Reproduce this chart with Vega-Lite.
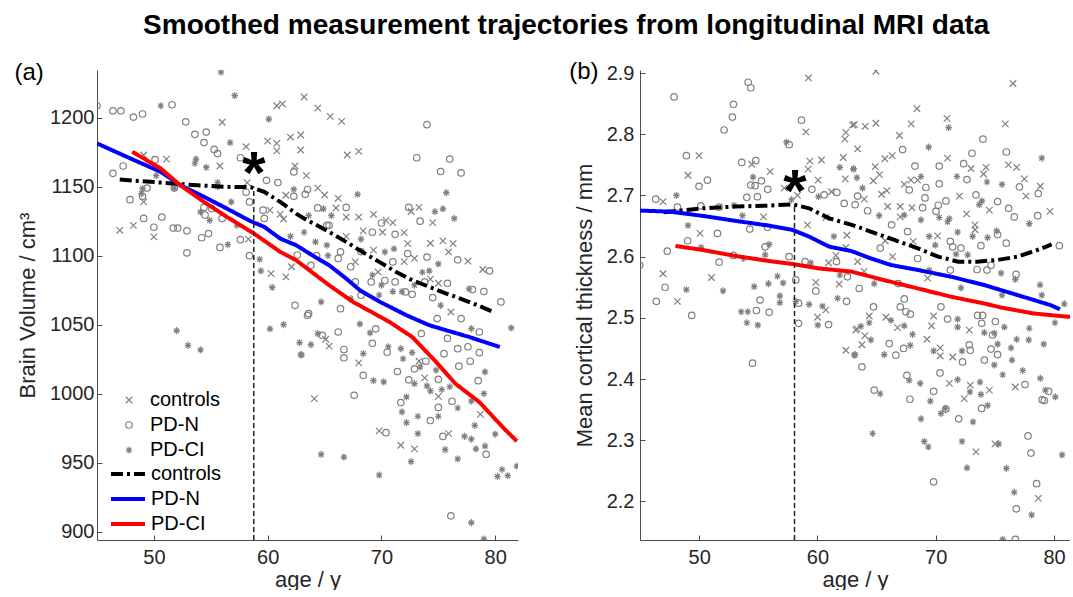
{
"$schema": "https://vega.github.io/schema/vega-lite/v6.json",
"background": "white",
"padding": {"left": 14, "top": 12, "right": 0, "bottom": 0},
"config": {
  "font": "Liberation Sans",
  "view": {"stroke": null},
  "axis": {"grid": false, "domainColor": "#4d4d4d", "domainWidth": 1, "tickColor": "#4d4d4d", "tickSize": -5, "labelPadding": 8, "labelFontSize": 20, "titleFontSize": 22, "titleFontWeight": "normal", "labelColor": "#262626", "titleColor": "#262626"},
  "legend": {"labelFontSize": 20, "labelColor": "black", "padding": 0}
},
"title": {"text": "Smoothed measurement trajectories from longitudinal MRI data", "fontSize": 28, "fontWeight": "bold", "anchor": "middle", "frame": "bounds", "offset": 20, "dx": 24, "color": "black"},
"bounds": "flush",
"spacing": 122,
"resolve": {"scale": {"shape": "independent", "color": "independent", "strokeDash": "independent"}, "legend": {"shape": "independent", "color": "independent", "strokeDash": "independent"}},
"datasets": {
"ptsA": [
{"age":45.0,"val":1208.7,"grp":"PD-N"},{"age":46.4,"val":1205,"grp":"PD-N"},{"age":47.1,"val":1205,"grp":"PD-N"},{"age":48.2,"val":1200.5,"grp":"PD-N"},{"age":49.0,"val":1202.7,"grp":"PD-N"},{"age":51.6,"val":1209.4,"grp":"PD-N"},{"age":52.8,"val":1197,"grp":"PD-N"},{"age":53.6,"val":1188,"grp":"PD-N"},{"age":54.6,"val":1189.6,"grp":"PD-N"},{"age":54.4,"val":1182,"grp":"PD-N"},{"age":55.3,"val":1177,"grp":"PD-N"},{"age":55.6,"val":1174,"grp":"PD-N"},{"age":57.6,"val":1171,"grp":"PD-N"},{"age":46.4,"val":1159.7,"grp":"PD-N"},{"age":47.3,"val":1165,"grp":"PD-N"},{"age":50.1,"val":1169.6,"grp":"PD-N"},{"age":49.4,"val":1149,"grp":"PD-N"},{"age":47.9,"val":1140.6,"grp":"PD-N"},{"age":49.0,"val":1143,"grp":"PD-N"},{"age":49.1,"val":1127,"grp":"PD-N"},{"age":50.7,"val":1128,"grp":"PD-N"},{"age":50.0,"val":1120.6,"grp":"PD-N"},{"age":51.7,"val":1120,"grp":"PD-N"},{"age":52.1,"val":1120,"grp":"PD-N"},{"age":52.9,"val":1118,"grp":"PD-N"},{"age":54.2,"val":1113,"grp":"PD-N"},{"age":54.8,"val":1116,"grp":"PD-N"},{"age":52.9,"val":1102,"grp":"PD-N"},{"age":55.8,"val":1106,"grp":"PD-N"},{"age":57.6,"val":1111.6,"grp":"PD-N"},{"age":58.4,"val":1100,"grp":"PD-N"},{"age":58.4,"val":1139,"grp":"PD-N"},{"age":58.1,"val":1146,"grp":"PD-N"},{"age":54.4,"val":1135,"grp":"PD-N"},{"age":55.1,"val":1134,"grp":"PD-N"},{"age":56.0,"val":1127,"grp":"PD-N"},{"age":54.5,"val":1129.5,"grp":"PD-N"},{"age":51.8,"val":1149,"grp":"PD-N"},{"age":59.9,"val":1154.6,"grp":"PD-N"},{"age":60.9,"val":1153,"grp":"PD-N"},{"age":59.6,"val":1133,"grp":"PD-N"},{"age":59.7,"val":1127,"grp":"PD-N"},{"age":62.3,"val":1160.7,"grp":"PD-N"},{"age":62.3,"val":1143,"grp":"PD-N"},{"age":62.6,"val":1100.5,"grp":"PD-N"},
{"age":74.0,"val":1195,"grp":"PD-N"},{"age":73.1,"val":1171,"grp":"PD-N"},{"age":76.0,"val":1170,"grp":"PD-N"},{"age":75.2,"val":1161,"grp":"PD-N"},{"age":77.0,"val":1160,"grp":"PD-N"},{"age":72.4,"val":1135,"grp":"PD-N"},{"age":73.4,"val":1125,"grp":"PD-N"},{"age":63.5,"val":1148,"grp":"PD-N"},{"age":63.3,"val":1144.5,"grp":"PD-N"},{"age":64.4,"val":1134.6,"grp":"PD-N"},{"age":66.9,"val":1135,"grp":"PD-N"},{"age":70.0,"val":1123.7,"grp":"PD-N"},{"age":69.2,"val":1117,"grp":"PD-N"},{"age":71.2,"val":1115.5,"grp":"PD-N"},{"age":72.3,"val":1101.5,"grp":"PD-N"},{"age":74.0,"val":1099,"grp":"PD-N"},{"age":71.0,"val":1095.5,"grp":"PD-N"},{"age":68.2,"val":1103,"grp":"PD-N"},{"age":67.3,"val":1092,"grp":"PD-N"},{"age":76.7,"val":1097,"grp":"PD-N"},{"age":79.5,"val":1089,"grp":"PD-N"},{"age":75.8,"val":1080,"grp":"PD-N"},{"age":78.0,"val":1075.4,"grp":"PD-N"},{"age":79.0,"val":1074,"grp":"PD-N"},{"age":80.5,"val":1066.5,"grp":"PD-N"},{"age":65.4,"val":1122,"grp":"PD-N"},{"age":70.3,"val":1082,"grp":"PD-N"},{"age":71.2,"val":1081,"grp":"PD-N"},{"age":72.7,"val":1072,"grp":"PD-N"},{"age":74.5,"val":1069.6,"grp":"PD-N"},{"age":64.3,"val":1100,"grp":"PD-N"},{"age":63.8,"val":1093,"grp":"PD-N"},{"age":66.2,"val":1098,"grp":"PD-N"},
{"age":67.6,"val":998.8,"grp":"PD-N"},{"age":68.4,"val":1013.3,"grp":"PD-N"},{"age":71.4,"val":1016,"grp":"PD-N"},{"age":72.4,"val":1010,"grp":"PD-N"},{"age":75.0,"val":1010.4,"grp":"PD-N"},{"age":76.2,"val":994.5,"grp":"PD-N"},{"age":71.7,"val":993.5,"grp":"PD-N"},{"age":75.0,"val":990,"grp":"PD-N"},{"age":74.3,"val":980.5,"grp":"PD-N"},{"age":75.4,"val":969,"grp":"PD-N"},{"age":70.4,"val":971.7,"grp":"PD-N"},{"age":79.2,"val":956,"grp":"PD-N"},{"age":76.1,"val":911.4,"grp":"PD-N"},{"age":66.7,"val":1032,"grp":"PD-N"},{"age":66.7,"val":1026,"grp":"PD-N"},{"age":69.2,"val":1036.5,"grp":"PD-N"},{"age":64.8,"val":1042.3,"grp":"PD-N"},{"age":66.2,"val":1044.7,"grp":"PD-N"},{"age":76.8,"val":1019.9,"grp":"PD-N"},{"age":77.8,"val":1023.5,"grp":"PD-N"},{"age":78.6,"val":1029.7,"grp":"PD-N"},{"age":78.5,"val":1009.4,"grp":"PD-N"},{"age":77.6,"val":1034,"grp":"PD-N"},{"age":76.7,"val":1032.6,"grp":"PD-N"},{"age":72.9,"val":1018,"grp":"PD-N"},{"age":70.5,"val":1030,"grp":"PD-N"},{"age":73.9,"val":1023.5,"grp":"PD-N"},{"age":75.5,"val":1029,"grp":"PD-N"},{"age":63.6,"val":1058,"grp":"PD-N"},{"age":69.5,"val":1047,"grp":"PD-N"},{"age":74.9,"val":1054.4,"grp":"PD-N"},{"age":78.6,"val":1044.7,"grp":"PD-N"},{"age":75.8,"val":1040,"grp":"PD-N"},{"age":73.5,"val":1043.5,"grp":"PD-N"},
{"age":62.4,"val":1064,"grp":"PD-N"},{"age":63.5,"val":1056.8,"grp":"PD-N"},{"age":66.4,"val":1061.6,"grp":"PD-N"},{"age":68.2,"val":1071.3,"grp":"PD-N"},{"age":69.1,"val":1081,"grp":"PD-N"},{"age":72.1,"val":1073.7,"grp":"PD-N"},{"age":73.8,"val":1081,"grp":"PD-N"},{"age":77.0,"val":1054.4,"grp":"PD-N"},{"age":66.4,"val":1102.8,"grp":"PD-N"},{"age":65.2,"val":1122,"grp":"PD-N"},{"age":67.7,"val":1081,"grp":"PD-N"},
{"age":47.0,"val":1118.4,"grp":"controls"},{"age":48.2,"val":1122,"grp":"controls"},{"age":50.0,"val":1113.6,"grp":"controls"},{"age":49.1,"val":1139,"grp":"controls"},{"age":51.1,"val":1170,"grp":"controls"},{"age":55.8,"val":1165,"grp":"controls"},{"age":56.0,"val":1196.7,"grp":"controls"},{"age":58.1,"val":1179,"grp":"controls"},{"age":60.0,"val":1183,"grp":"controls"},{"age":60.8,"val":1181.4,"grp":"controls"},{"age":60.8,"val":1208.7,"grp":"controls"},{"age":61.3,"val":1210,"grp":"controls"},{"age":62.0,"val":1186,"grp":"controls"},{"age":62.9,"val":1187.5,"grp":"controls"},{"age":60.8,"val":1176,"grp":"controls"},{"age":62.4,"val":1165,"grp":"controls"},{"age":58.2,"val":1153,"grp":"controls"},{"age":60.2,"val":1133,"grp":"controls"},{"age":60.3,"val":1087,"grp":"controls"},{"age":61.6,"val":1084.6,"grp":"controls"},{"age":62.1,"val":1092,"grp":"controls"},{"age":58.3,"val":1112,"grp":"controls"},{"age":61.1,"val":1130,"grp":"controls"},{"age":61.4,"val":1126.6,"grp":"controls"},{"age":61.6,"val":1143.8,"grp":"controls"},{"age":49.1,"val":1173,"grp":"controls"},
{"age":63.2,"val":1215,"grp":"controls"},{"age":64.4,"val":1207,"grp":"controls"},{"age":65.5,"val":1201,"grp":"controls"},{"age":66.5,"val":1197.4,"grp":"controls"},{"age":62.9,"val":1176.6,"grp":"controls"},{"age":67.0,"val":1173,"grp":"controls"},{"age":68.0,"val":1175.6,"grp":"controls"},{"age":63.4,"val":1158,"grp":"controls"},{"age":65.0,"val":1144,"grp":"controls"},{"age":66.2,"val":1141.6,"grp":"controls"},{"age":64.4,"val":1149,"grp":"controls"},{"age":68.0,"val":1128,"grp":"controls"},{"age":69.3,"val":1130,"grp":"controls"},{"age":71.0,"val":1124,"grp":"controls"},{"age":70.4,"val":1125.6,"grp":"controls"},{"age":70.1,"val":1117,"grp":"controls"},{"age":72.0,"val":1116.7,"grp":"controls"},{"age":72.3,"val":1108.7,"grp":"controls"},{"age":69.3,"val":1104,"grp":"controls"},{"age":66.9,"val":1114,"grp":"controls"},{"age":68.4,"val":1118,"grp":"controls"},{"age":73.3,"val":1135,"grp":"controls"},{"age":74.5,"val":1124,"grp":"controls"},{"age":74.3,"val":1109,"grp":"controls"},{"age":75.4,"val":1110.7,"grp":"controls"},{"age":76.3,"val":1108.7,"grp":"controls"},{"age":75.9,"val":1102.7,"grp":"controls"},{"age":77.6,"val":1096,"grp":"controls"},{"age":78.9,"val":1090,"grp":"controls"},{"age":72.0,"val":1095.7,"grp":"controls"},{"age":72.9,"val":1098,"grp":"controls"},{"age":72.6,"val":1132,"grp":"controls"},{"age":74.3,"val":1083,"grp":"controls"},{"age":75.0,"val":1080,"grp":"controls"},{"age":66.9,"val":1128,"grp":"controls"},{"age":66.0,"val":1134.6,"grp":"controls"},{"age":67.7,"val":1095.5,"grp":"controls"},
{"age":64.1,"val":996.4,"grp":"controls"},{"age":68.0,"val":1022.3,"grp":"controls"},{"age":69.8,"val":973,"grp":"controls"},{"age":71.7,"val":962.6,"grp":"controls"},{"age":72.9,"val":960,"grp":"controls"},{"age":75.9,"val":971,"grp":"controls"},{"age":75.0,"val":998,"grp":"controls"},{"age":78.7,"val":985,"grp":"controls"},{"age":73.8,"val":1011.4,"grp":"controls"},{"age":73.3,"val":1023.5,"grp":"controls"},{"age":65.4,"val":1034.4,"grp":"controls"},{"age":65.1,"val":1039.4,"grp":"controls"},{"age":69.7,"val":1088.2,"grp":"controls"},{"age":76.1,"val":1059.2,"grp":"controls"},
{"age":55.9,"val":1233,"grp":"PD-CI"},{"age":57.1,"val":1216,"grp":"PD-CI"},{"age":50.6,"val":1208.7,"grp":"PD-CI"},{"age":60.1,"val":1199,"grp":"PD-CI"},{"age":56.7,"val":1182,"grp":"PD-CI"},{"age":53.7,"val":1170,"grp":"PD-CI"},{"age":53.6,"val":1167,"grp":"PD-CI"},{"age":54.6,"val":1164,"grp":"PD-CI"},{"age":55.6,"val":1153,"grp":"PD-CI"},{"age":55.6,"val":1150,"grp":"PD-CI"},{"age":51.8,"val":1149,"grp":"PD-CI"},{"age":49.0,"val":1148.6,"grp":"PD-CI"},{"age":48.9,"val":1145,"grp":"PD-CI"},{"age":50.2,"val":1158,"grp":"PD-CI"},{"age":54.1,"val":1131.7,"grp":"PD-CI"},{"age":54.9,"val":1125.6,"grp":"PD-CI"},{"age":56.8,"val":1139,"grp":"PD-CI"},{"age":57.3,"val":1122,"grp":"PD-CI"},{"age":56.5,"val":1108,"grp":"PD-CI"},{"age":59.3,"val":1097.4,"grp":"PD-CI"},{"age":59.4,"val":1089,"grp":"PD-CI"},{"age":60.4,"val":1077,"grp":"PD-CI"},{"age":62.3,"val":1148,"grp":"PD-CI"},{"age":62.0,"val":1114,"grp":"PD-CI"},
{"age":67.9,"val":1144.5,"grp":"PD-CI"},{"age":75.7,"val":1145.7,"grp":"PD-CI"},{"age":74.7,"val":1132,"grp":"PD-CI"},{"age":75.4,"val":1134,"grp":"PD-CI"},{"age":76.4,"val":1127,"grp":"PD-CI"},{"age":75.0,"val":1094,"grp":"PD-CI"},{"age":74.2,"val":1089,"grp":"PD-CI"},{"age":73.6,"val":1088,"grp":"PD-CI"},{"age":71.1,"val":1105,"grp":"PD-CI"},{"age":70.3,"val":1102.7,"grp":"PD-CI"},{"age":65.6,"val":1129,"grp":"PD-CI"},{"age":64.9,"val":1134,"grp":"PD-CI"},{"age":63.6,"val":1129,"grp":"PD-CI"},{"age":63.2,"val":1117,"grp":"PD-CI"},{"age":64.2,"val":1110,"grp":"PD-CI"},{"age":65.3,"val":1100,"grp":"PD-CI"},{"age":68.2,"val":1112,"grp":"PD-CI"},{"age":69.2,"val":1086,"grp":"PD-CI"},{"age":71.0,"val":1074,"grp":"PD-CI"},{"age":71.8,"val":1074,"grp":"PD-CI"},{"age":69.8,"val":1071.5,"grp":"PD-CI"},{"age":77.7,"val":1076,"grp":"PD-CI"},
{"age":52.0,"val":1045.7,"grp":"PD-CI"},{"age":53.0,"val":1035,"grp":"PD-CI"},{"age":54.1,"val":1031.7,"grp":"PD-CI"},{"age":60.2,"val":1047,"grp":"PD-CI"},{"age":61.4,"val":1050,"grp":"PD-CI"},{"age":62.8,"val":1037,"grp":"PD-CI"},{"age":62.9,"val":1028.3,"grp":"PD-CI"},
{"age":63.8,"val":1035.5,"grp":"PD-CI"},{"age":63.0,"val":1028,"grp":"PD-CI"},{"age":64.4,"val":1043.5,"grp":"PD-CI"},{"age":68.1,"val":1050.5,"grp":"PD-CI"},{"age":68.4,"val":1029,"grp":"PD-CI"},{"age":69.3,"val":1009.4,"grp":"PD-CI"},{"age":70.2,"val":1008.5,"grp":"PD-CI"},{"age":69.0,"val":1044,"grp":"PD-CI"},{"age":70.6,"val":1034,"grp":"PD-CI"},{"age":71.7,"val":1032.6,"grp":"PD-CI"},{"age":72.7,"val":1029.7,"grp":"PD-CI"},{"age":71.9,"val":1025.3,"grp":"PD-CI"},{"age":73.4,"val":1019.4,"grp":"PD-CI"},{"age":72.9,"val":1007.3,"grp":"PD-CI"},{"age":74.0,"val":1005.6,"grp":"PD-CI"},{"age":74.3,"val":1002,"grp":"PD-CI"},{"age":75.3,"val":1003,"grp":"PD-CI"},{"age":74.8,"val":1017,"grp":"PD-CI"},{"age":76.0,"val":1005,"grp":"PD-CI"},{"age":72.2,"val":997.6,"grp":"PD-CI"},{"age":71.8,"val":986.8,"grp":"PD-CI"},{"age":73.2,"val":983.6,"grp":"PD-CI"},{"age":72.2,"val":979,"grp":"PD-CI"},{"age":75.0,"val":983.6,"grp":"PD-CI"},{"age":73.2,"val":971,"grp":"PD-CI"},{"age":75.6,"val":959.4,"grp":"PD-CI"},{"age":76.7,"val":952.7,"grp":"PD-CI"},{"age":72.6,"val":950.7,"grp":"PD-CI"},{"age":76.7,"val":989.6,"grp":"PD-CI"},{"age":77.9,"val":994.5,"grp":"PD-CI"},{"age":78.2,"val":977,"grp":"PD-CI"},{"age":77.3,"val":969,"grp":"PD-CI"},{"age":77.9,"val":967,"grp":"PD-CI"},{"age":78.3,"val":960,"grp":"PD-CI"},{"age":79.1,"val":962,"grp":"PD-CI"},{"age":79.0,"val":1000,"grp":"PD-CI"},{"age":79.1,"val":1015.8,"grp":"PD-CI"},{"age":80.0,"val":970.6,"grp":"PD-CI"},{"age":81.9,"val":947.5,"grp":"PD-CI"},{"age":80.6,"val":945,"grp":"PD-CI"},{"age":81.1,"val":940.5,"grp":"PD-CI"},{"age":80.2,"val":940,"grp":"PD-CI"},{"age":69.8,"val":941,"grp":"PD-CI"},{"age":64.7,"val":956,"grp":"PD-CI"},{"age":66.7,"val":954,"grp":"PD-CI"},{"age":77.9,"val":906.5,"grp":"PD-CI"},{"age":79.0,"val":894.5,"grp":"PD-CI"},{"age":81.4,"val":1047.6,"grp":"PD-CI"},
{"age":64.7,"val":1066.5,"grp":"PD-CI"},{"age":67.3,"val":1068.9,"grp":"PD-CI"},{"age":70.0,"val":1078.6,"grp":"PD-CI"},{"age":72.9,"val":1078.6,"grp":"PD-CI"},{"age":75.2,"val":1064,"grp":"PD-CI"},{"age":77.9,"val":1047.1,"grp":"PD-CI"},{"age":65.2,"val":1107.6,"grp":"PD-CI"}
],
"lnA": [
{"age":47.0,"val":1155.2,"s":"controls"},{"age":50.6,"val":1153,"s":"controls"},{"age":53.5,"val":1151.2,"s":"controls"},{"age":56.4,"val":1149.9,"s":"controls"},{"age":58.5,"val":1149.7,"s":"controls"},{"age":59.7,"val":1146.3,"s":"controls"},{"age":61.1,"val":1139,"s":"controls"},{"age":62.5,"val":1130.5,"s":"controls"},{"age":63.2,"val":1127,"s":"controls"},{"age":65.4,"val":1117.3,"s":"controls"},{"age":66.9,"val":1110,"s":"controls"},{"age":68.3,"val":1102.8,"s":"controls"},{"age":69.8,"val":1095.5,"s":"controls"},{"age":71.3,"val":1088.2,"s":"controls"},{"age":72.7,"val":1082.2,"s":"controls"},{"age":74.2,"val":1077.4,"s":"controls"},{"age":75.7,"val":1072.5,"s":"controls"},{"age":77.1,"val":1068.4,"s":"controls"},{"age":78.3,"val":1064.5,"s":"controls"},{"age":79.7,"val":1059.7,"s":"controls"},
{"age":45.0,"val":1181.4,"s":"PD-N"},{"age":47.6,"val":1171.7,"s":"PD-N"},{"age":50.6,"val":1160.8,"s":"PD-N"},{"age":52.3,"val":1151.2,"s":"PD-N"},{"age":54.4,"val":1142.7,"s":"PD-N"},{"age":56.4,"val":1134.2,"s":"PD-N"},{"age":58.5,"val":1125,"s":"PD-N"},{"age":59.7,"val":1120.9,"s":"PD-N"},{"age":61.1,"val":1112.4,"s":"PD-N"},{"age":62.5,"val":1107.6,"s":"PD-N"},{"age":63.9,"val":1100.4,"s":"PD-N"},{"age":65.4,"val":1093.1,"s":"PD-N"},{"age":66.9,"val":1083.4,"s":"PD-N"},{"age":68.1,"val":1075,"s":"PD-N"},{"age":69.8,"val":1066.8,"s":"PD-N"},{"age":72.2,"val":1056.8,"s":"PD-N"},{"age":74.2,"val":1049.6,"s":"PD-N"},{"age":75.7,"val":1045.9,"s":"PD-N"},{"age":77.7,"val":1041.1,"s":"PD-N"},{"age":80.4,"val":1033.8,"s":"PD-N"},
{"age":48.1,"val":1175.3,"s":"PD-CI"},{"age":50.6,"val":1163.2,"s":"PD-CI"},{"age":52.3,"val":1151.2,"s":"PD-CI"},{"age":54.4,"val":1139,"s":"PD-CI"},{"age":56.4,"val":1128.2,"s":"PD-CI"},{"age":58.8,"val":1116,"s":"PD-CI"},{"age":61.1,"val":1102.8,"s":"PD-CI"},{"age":62.5,"val":1096.7,"s":"PD-CI"},{"age":65.4,"val":1078.6,"s":"PD-CI"},{"age":67.5,"val":1066.5,"s":"PD-CI"},{"age":70.7,"val":1052,"s":"PD-CI"},{"age":72.7,"val":1041.1,"s":"PD-CI"},{"age":74.8,"val":1023,"s":"PD-CI"},{"age":76.5,"val":1007.2,"s":"PD-CI"},{"age":78.6,"val":993.9,"s":"PD-CI"},{"age":80.8,"val":974.5,"s":"PD-CI"},{"age":81.9,"val":965.5,"s":"PD-CI"}
],
"ptsB": [
{"age":47.88,"val":2.861,"grp":"PD-N"},{"age":54.14,"val":2.885,"grp":"PD-N"},{"age":54.37,"val":2.876,"grp":"PD-N"},{"age":52.9,"val":2.849,"grp":"PD-N"},{"age":52.81,"val":2.828,"grp":"PD-N"},{"age":52.11,"val":2.807,"grp":"PD-N"},{"age":48.92,"val":2.765,"grp":"PD-N"},{"age":53.6,"val":2.754,"grp":"PD-N"},{"age":54.79,"val":2.757,"grp":"PD-N"},{"age":50.7,"val":2.725,"grp":"PD-N"},{"age":49.99,"val":2.715,"grp":"PD-N"},{"age":54.37,"val":2.717,"grp":"PD-N"},{"age":55.27,"val":2.724,"grp":"PD-N"},{"age":54.73,"val":2.716,"grp":"PD-N"},{"age":55.8,"val":2.71,"grp":"PD-N"},{"age":54.03,"val":2.697,"grp":"PD-N"},{"age":54.93,"val":2.698,"grp":"PD-N"},{"age":46.33,"val":2.694,"grp":"PD-N"},{"age":48.16,"val":2.681,"grp":"PD-N"},{"age":50.14,"val":2.683,"grp":"PD-N"},{"age":51.69,"val":2.681,"grp":"PD-N"},{"age":58.65,"val":2.823,"grp":"PD-N"},{"age":57.61,"val":2.783,"grp":"PD-N"},{"age":59.53,"val":2.71,"grp":"PD-N"},{"age":60.57,"val":2.701,"grp":"PD-N"},{"age":61.64,"val":2.705,"grp":"PD-N"},{"age":62.26,"val":2.687,"grp":"PD-N"},{"age":54.28,"val":2.645,"grp":"PD-N"},{"age":51.55,"val":2.638,"grp":"PD-N"},{"age":55.77,"val":2.648,"grp":"PD-N"},{"age":49.03,"val":2.626,"grp":"PD-N"},{"age":47.31,"val":2.609,"grp":"PD-N"},{"age":55.58,"val":2.616,"grp":"PD-N"},{"age":44.97,"val":2.586,"grp":"PD-N"},{"age":51.69,"val":2.591,"grp":"PD-N"},{"age":52.9,"val":2.602,"grp":"PD-N"},{"age":57.61,"val":2.6,"grp":"PD-N"},{"age":58.96,"val":2.592,"grp":"PD-N"},{"age":61.61,"val":2.592,"grp":"PD-N"},{"age":47.12,"val":2.55,"grp":"PD-N"},{"age":46.38,"val":2.527,"grp":"PD-N"},{"age":55.15,"val":2.529,"grp":"PD-N"},{"age":58.17,"val":2.562,"grp":"PD-N"},{"age":59.86,"val":2.544,"grp":"PD-N"},{"age":62.46,"val":2.527,"grp":"PD-N"},{"age":62.54,"val":2.567,"grp":"PD-N"},
{"age":49.37,"val":2.504,"grp":"PD-N"},{"age":54.84,"val":2.512,"grp":"PD-N"},{"age":55.92,"val":2.509,"grp":"PD-N"},{"age":54.51,"val":2.426,"grp":"PD-N"},{"age":58.4,"val":2.491,"grp":"PD-N"},{"age":60.94,"val":2.489,"grp":"PD-N"},{"age":58.4,"val":2.524,"grp":"PD-N"},
{"age":73.99,"val":2.792,"grp":"PD-N"},{"age":67.2,"val":2.775,"grp":"PD-N"},{"age":73.06,"val":2.769,"grp":"PD-N"},{"age":75.97,"val":2.771,"grp":"PD-N"},{"age":68.24,"val":2.748,"grp":"PD-N"},{"age":70.3,"val":2.748,"grp":"PD-N"},{"age":72.36,"val":2.752,"grp":"PD-N"},{"age":72.64,"val":2.726,"grp":"PD-N"},{"age":77.07,"val":2.714,"grp":"PD-N"},{"age":78.67,"val":2.703,"grp":"PD-N"},{"age":73.4,"val":2.701,"grp":"PD-N"},{"age":75.23,"val":2.69,"grp":"PD-N"},{"age":76.16,"val":2.679,"grp":"PD-N"},{"age":76.64,"val":2.665,"grp":"PD-N"},{"age":78.62,"val":2.667,"grp":"PD-N"},{"age":80.45,"val":2.618,"grp":"PD-N"},{"age":69.17,"val":2.713,"grp":"PD-N"},{"age":69.09,"val":2.696,"grp":"PD-N"},{"age":68.89,"val":2.68,"grp":"PD-N"},{"age":67.76,"val":2.709,"grp":"PD-N"},{"age":70.3,"val":2.719,"grp":"PD-N"},{"age":70.86,"val":2.691,"grp":"PD-N"},{"age":70.21,"val":2.684,"grp":"PD-N"},{"age":70.02,"val":2.674,"grp":"PD-N"},{"age":63.39,"val":2.699,"grp":"PD-N"},{"age":63.19,"val":2.685,"grp":"PD-N"},{"age":64.24,"val":2.675,"grp":"PD-N"},{"age":66.27,"val":2.652,"grp":"PD-N"},{"age":67.62,"val":2.641,"grp":"PD-N"},{"age":71.23,"val":2.625,"grp":"PD-N"},{"age":72.13,"val":2.614,"grp":"PD-N"},{"age":73.82,"val":2.618,"grp":"PD-N"},{"age":75.23,"val":2.636,"grp":"PD-N"},{"age":75.96,"val":2.622,"grp":"PD-N"},{"age":76.79,"val":2.571,"grp":"PD-N"},{"age":74.33,"val":2.578,"grp":"PD-N"},{"age":73.49,"val":2.579,"grp":"PD-N"},{"age":71.23,"val":2.578,"grp":"PD-N"},{"age":65.31,"val":2.614,"grp":"PD-N"},{"age":66.83,"val":2.556,"grp":"PD-N"},{"age":63.53,"val":2.548,"grp":"PD-N"},{"age":67.34,"val":2.531,"grp":"PD-N"},{"age":68.47,"val":2.597,"grp":"PD-N"},{"age":71.43,"val":2.616,"grp":"PD-N"},{"age":74.67,"val":2.586,"grp":"PD-N"},
{"age":64.74,"val":2.518,"grp":"PD-N"},{"age":67.0,"val":2.518,"grp":"PD-N"},{"age":67.48,"val":2.51,"grp":"PD-N"},{"age":67.85,"val":2.506,"grp":"PD-N"},{"age":70.44,"val":2.518,"grp":"PD-N"},{"age":71.0,"val":2.498,"grp":"PD-N"},{"age":73.54,"val":2.504,"grp":"PD-N"},{"age":73.96,"val":2.504,"grp":"PD-N"},{"age":73.88,"val":2.491,"grp":"PD-N"},{"age":75.04,"val":2.494,"grp":"PD-N"},{"age":74.81,"val":2.472,"grp":"PD-N"},{"age":66.07,"val":2.458,"grp":"PD-N"},{"age":67.28,"val":2.45,"grp":"PD-N"},{"age":66.63,"val":2.439,"grp":"PD-N"},{"age":63.76,"val":2.42,"grp":"PD-N"},{"age":72.84,"val":2.456,"grp":"PD-N"},{"age":72.92,"val":2.447,"grp":"PD-N"},{"age":74.67,"val":2.449,"grp":"PD-N"},{"age":75.23,"val":2.44,"grp":"PD-N"},{"age":74.11,"val":2.431,"grp":"PD-N"},{"age":72.27,"val":2.428,"grp":"PD-N"},{"age":70.36,"val":2.41,"grp":"PD-N"},{"age":67.56,"val":2.406,"grp":"PD-N"},{"age":64.8,"val":2.382,"grp":"PD-N"},{"age":67.82,"val":2.367,"grp":"PD-N"},{"age":69.82,"val":2.38,"grp":"PD-N"},{"age":70.86,"val":2.351,"grp":"PD-N"},{"age":71.94,"val":2.335,"grp":"PD-N"},{"age":73.88,"val":2.352,"grp":"PD-N"},{"age":77.55,"val":2.391,"grp":"PD-N"},{"age":79.55,"val":2.38,"grp":"PD-N"},{"age":78.99,"val":2.366,"grp":"PD-N"},{"age":79.18,"val":2.365,"grp":"PD-N"},{"age":77.8,"val":2.307,"grp":"PD-N"},{"age":78.05,"val":2.279,"grp":"PD-N"},{"age":69.82,"val":2.232,"grp":"PD-N"},{"age":78.53,"val":2.229,"grp":"PD-N"},{"age":76.81,"val":2.188,"grp":"PD-N"},{"age":76.73,"val":2.138,"grp":"PD-N"},
{"age":59.24,"val":2.892,"grp":"controls"},{"age":59.02,"val":2.804,"grp":"controls"},{"age":49.99,"val":2.765,"grp":"controls"},{"age":49.06,"val":2.733,"grp":"controls"},{"age":46.95,"val":2.69,"grp":"controls"},{"age":56.0,"val":2.739,"grp":"controls"},{"age":54.45,"val":2.751,"grp":"controls"},{"age":57.19,"val":2.712,"grp":"controls"},{"age":58.31,"val":2.7,"grp":"controls"},{"age":59.21,"val":2.743,"grp":"controls"},{"age":59.36,"val":2.756,"grp":"controls"},{"age":60.34,"val":2.758,"grp":"controls"},{"age":60.06,"val":2.725,"grp":"controls"},{"age":61.19,"val":2.706,"grp":"controls"},{"age":62.18,"val":2.762,"grp":"controls"},{"age":62.35,"val":2.727,"grp":"controls"},{"age":62.4,"val":2.803,"grp":"controls"},{"age":62.32,"val":2.792,"grp":"controls"},{"age":62.97,"val":2.815,"grp":"controls"},{"age":60.71,"val":2.664,"grp":"controls"},{"age":50.08,"val":2.638,"grp":"controls"},{"age":55.44,"val":2.665,"grp":"controls"},{"age":46.95,"val":2.572,"grp":"controls"},{"age":51.04,"val":2.566,"grp":"controls"},{"age":48.16,"val":2.527,"grp":"controls"},{"age":59.86,"val":2.558,"grp":"controls"},{"age":61.84,"val":2.555,"grp":"controls"},{"age":60.94,"val":2.59,"grp":"controls"},{"age":62.49,"val":2.635,"grp":"controls"},{"age":61.56,"val":2.602,"grp":"controls"},{"age":59.16,"val":2.652,"grp":"controls"},{"age":62.4,"val":2.615,"grp":"controls"},
{"age":60.01,"val":2.501,"grp":"controls"},{"age":60.71,"val":2.513,"grp":"controls"},{"age":62.4,"val":2.447,"grp":"controls"},{"age":63.25,"val":2.48,"grp":"controls"},
{"age":64.94,"val":2.903,"grp":"controls"},{"age":76.53,"val":2.883,"grp":"controls"},{"age":68.41,"val":2.842,"grp":"controls"},{"age":70.95,"val":2.826,"grp":"controls"},{"age":63.11,"val":2.816,"grp":"controls"},{"age":64.04,"val":2.813,"grp":"controls"},{"age":64.94,"val":2.818,"grp":"controls"},{"age":67.93,"val":2.817,"grp":"controls"},{"age":75.88,"val":2.817,"grp":"controls"},{"age":66.94,"val":2.798,"grp":"controls"},{"age":63.39,"val":2.776,"grp":"controls"},{"age":65.7,"val":2.76,"grp":"controls"},{"age":66.32,"val":2.765,"grp":"controls"},{"age":71.0,"val":2.761,"grp":"controls"},{"age":64.88,"val":2.747,"grp":"controls"},{"age":65.25,"val":2.734,"grp":"controls"},{"age":64.72,"val":2.724,"grp":"controls"},{"age":67.9,"val":2.725,"grp":"controls"},{"age":68.47,"val":2.725,"grp":"controls"},{"age":65.87,"val":2.708,"grp":"controls"},{"age":65.42,"val":2.702,"grp":"controls"},{"age":67.34,"val":2.718,"grp":"controls"},{"age":63.95,"val":2.694,"grp":"controls"},{"age":65.93,"val":2.682,"grp":"controls"},{"age":67.0,"val":2.682,"grp":"controls"},{"age":67.99,"val":2.68,"grp":"controls"},{"age":72.0,"val":2.699,"grp":"controls"},{"age":72.98,"val":2.744,"grp":"controls"},{"age":74.25,"val":2.746,"grp":"controls"},{"age":74.05,"val":2.735,"grp":"controls"},{"age":76.14,"val":2.75,"grp":"controls"},{"age":76.84,"val":2.746,"grp":"controls"},{"age":77.49,"val":2.727,"grp":"controls"},{"age":78.84,"val":2.715,"grp":"controls"},{"age":77.63,"val":2.699,"grp":"controls"},{"age":79.66,"val":2.674,"grp":"controls"},{"age":72.61,"val":2.67,"grp":"controls"},{"age":74.53,"val":2.676,"grp":"controls"},{"age":67.0,"val":2.665,"grp":"controls"},{"age":70.16,"val":2.634,"grp":"controls"},{"age":73.32,"val":2.652,"grp":"controls"},{"age":73.32,"val":2.644,"grp":"controls"},{"age":65.73,"val":2.626,"grp":"controls"},{"age":68.1,"val":2.625,"grp":"controls"},{"age":66.35,"val":2.6,"grp":"controls"},{"age":69.31,"val":2.565,"grp":"controls"},{"age":63.39,"val":2.592,"grp":"controls"},{"age":63.95,"val":2.576,"grp":"controls"},
{"age":64.38,"val":2.503,"grp":"controls"},{"age":65.79,"val":2.501,"grp":"controls"},{"age":69.82,"val":2.503,"grp":"controls"},{"age":69.65,"val":2.487,"grp":"controls"},{"age":66.77,"val":2.484,"grp":"controls"},{"age":63.33,"val":2.482,"grp":"controls"},{"age":64.01,"val":2.471,"grp":"controls"},{"age":63.76,"val":2.456,"grp":"controls"},{"age":72.84,"val":2.48,"grp":"controls"},{"age":69.26,"val":2.465,"grp":"controls"},{"age":70.38,"val":2.451,"grp":"controls"},{"age":70.38,"val":2.438,"grp":"controls"},{"age":71.43,"val":2.436,"grp":"controls"},{"age":71.15,"val":2.393,"grp":"controls"},{"age":72.92,"val":2.39,"grp":"controls"},{"age":74.53,"val":2.382,"grp":"controls"},{"age":72.41,"val":2.368,"grp":"controls"},{"age":76.73,"val":2.387,"grp":"controls"},{"age":75.01,"val":2.294,"grp":"controls"},{"age":73.4,"val":2.281,"grp":"controls"},{"age":78.67,"val":2.205,"grp":"controls"},
{"age":57.38,"val":2.787,"grp":"PD-CI"},{"age":48.08,"val":2.7,"grp":"PD-CI"},{"age":54.56,"val":2.73,"grp":"PD-CI"},{"age":52.95,"val":2.684,"grp":"PD-CI"},{"age":53.66,"val":2.667,"grp":"PD-CI"},{"age":49.06,"val":2.651,"grp":"PD-CI"},{"age":50.16,"val":2.615,"grp":"PD-CI"},{"age":53.75,"val":2.597,"grp":"PD-CI"},{"age":55.92,"val":2.62,"grp":"PD-CI"},{"age":55.58,"val":2.603,"grp":"PD-CI"},{"age":57.81,"val":2.693,"grp":"PD-CI"},{"age":60.09,"val":2.698,"grp":"PD-CI"},{"age":61.39,"val":2.633,"grp":"PD-CI"},{"age":63.05,"val":2.743,"grp":"PD-CI"},{"age":61.89,"val":2.746,"grp":"PD-CI"},{"age":48.92,"val":2.546,"grp":"PD-CI"},{"age":52.02,"val":2.544,"grp":"PD-CI"},{"age":54.65,"val":2.551,"grp":"PD-CI"},{"age":55.86,"val":2.556,"grp":"PD-CI"},{"age":56.62,"val":2.568,"grp":"PD-CI"},{"age":57.1,"val":2.557,"grp":"PD-CI"},{"age":56.82,"val":2.536,"grp":"PD-CI"},{"age":56.82,"val":2.525,"grp":"PD-CI"},{"age":58.17,"val":2.527,"grp":"PD-CI"},{"age":59.3,"val":2.522,"grp":"PD-CI"},{"age":60.43,"val":2.519,"grp":"PD-CI"},{"age":61.7,"val":2.532,"grp":"PD-CI"},{"age":61.89,"val":2.57,"grp":"PD-CI"},{"age":59.44,"val":2.59,"grp":"PD-CI"},
{"age":53.55,"val":2.51,"grp":"PD-CI"},{"age":54.11,"val":2.51,"grp":"PD-CI"},{"age":54.03,"val":2.492,"grp":"PD-CI"},{"age":54.96,"val":2.488,"grp":"PD-CI"},{"age":60.03,"val":2.488,"grp":"PD-CI"},{"age":63.11,"val":2.439,"grp":"PD-CI"},
{"age":71.09,"val":2.811,"grp":"PD-CI"},{"age":69.4,"val":2.779,"grp":"PD-CI"},{"age":78.96,"val":2.761,"grp":"PD-CI"},{"age":71.79,"val":2.731,"grp":"PD-CI"},{"age":74.33,"val":2.722,"grp":"PD-CI"},{"age":75.6,"val":2.718,"grp":"PD-CI"},{"age":68.75,"val":2.731,"grp":"PD-CI"},{"age":63.81,"val":2.712,"grp":"PD-CI"},{"age":63.33,"val":2.729,"grp":"PD-CI"},{"age":63.05,"val":2.744,"grp":"PD-CI"},{"age":73.68,"val":2.685,"grp":"PD-CI"},{"age":73.91,"val":2.691,"grp":"PD-CI"},{"age":71.15,"val":2.662,"grp":"PD-CI"},{"age":71.0,"val":2.657,"grp":"PD-CI"},{"age":68.75,"val":2.66,"grp":"PD-CI"},{"age":70.3,"val":2.664,"grp":"PD-CI"},{"age":71.85,"val":2.64,"grp":"PD-CI"},{"age":73.12,"val":2.633,"grp":"PD-CI"},{"age":74.38,"val":2.631,"grp":"PD-CI"},{"age":75.15,"val":2.642,"grp":"PD-CI"},{"age":77.91,"val":2.654,"grp":"PD-CI"},{"age":65.22,"val":2.667,"grp":"PD-CI"},{"age":67.34,"val":2.668,"grp":"PD-CI"},{"age":69.96,"val":2.619,"grp":"PD-CI"},{"age":69.45,"val":2.633,"grp":"PD-CI"},{"age":78.82,"val":2.554,"grp":"PD-CI"},{"age":78.96,"val":2.537,"grp":"PD-CI"},{"age":80.87,"val":2.523,"grp":"PD-CI"},{"age":75.52,"val":2.573,"grp":"PD-CI"},{"age":76.73,"val":2.563,"grp":"PD-CI"},{"age":71.71,"val":2.604,"grp":"PD-CI"},{"age":72.7,"val":2.603,"grp":"PD-CI"},{"age":69.45,"val":2.578,"grp":"PD-CI"},{"age":64.8,"val":2.556,"grp":"PD-CI"},{"age":72.13,"val":2.549,"grp":"PD-CI"},{"age":75.6,"val":2.537,"grp":"PD-CI"},
{"age":63.67,"val":2.486,"grp":"PD-CI"},{"age":64.38,"val":2.492,"grp":"PD-CI"},{"age":66.21,"val":2.496,"grp":"PD-CI"},{"age":67.34,"val":2.487,"grp":"PD-CI"},{"age":68.04,"val":2.473,"grp":"PD-CI"},{"age":64.52,"val":2.464,"grp":"PD-CI"},{"age":63.19,"val":2.44,"grp":"PD-CI"},{"age":65.65,"val":2.44,"grp":"PD-CI"},{"age":67.85,"val":2.455,"grp":"PD-CI"},{"age":69.82,"val":2.446,"grp":"PD-CI"},{"age":72.22,"val":2.446,"grp":"PD-CI"},{"age":71.85,"val":2.485,"grp":"PD-CI"},{"age":71.85,"val":2.498,"grp":"PD-CI"},{"age":74.11,"val":2.476,"grp":"PD-CI"},{"age":74.95,"val":2.475,"grp":"PD-CI"},{"age":75.8,"val":2.485,"grp":"PD-CI"},{"age":75.23,"val":2.457,"grp":"PD-CI"},{"age":74.95,"val":2.423,"grp":"PD-CI"},{"age":76.45,"val":2.431,"grp":"PD-CI"},{"age":76.36,"val":2.451,"grp":"PD-CI"},{"age":76.84,"val":2.465,"grp":"PD-CI"},{"age":77.91,"val":2.483,"grp":"PD-CI"},{"age":77.86,"val":2.464,"grp":"PD-CI"},{"age":79.13,"val":2.457,"grp":"PD-CI"},{"age":80.08,"val":2.492,"grp":"PD-CI"},{"age":75.66,"val":2.407,"grp":"PD-CI"},{"age":77.35,"val":2.414,"grp":"PD-CI"},{"age":78.84,"val":2.401,"grp":"PD-CI"},{"age":79.27,"val":2.382,"grp":"PD-CI"},{"age":80.11,"val":2.371,"grp":"PD-CI"},{"age":68.69,"val":2.393,"grp":"PD-CI"},{"age":67.76,"val":2.398,"grp":"PD-CI"},{"age":65.31,"val":2.376,"grp":"PD-CI"},{"age":69.54,"val":2.364,"grp":"PD-CI"},{"age":70.81,"val":2.352,"grp":"PD-CI"},{"age":70.44,"val":2.344,"grp":"PD-CI"},{"age":71.85,"val":2.399,"grp":"PD-CI"},{"age":73.74,"val":2.395,"grp":"PD-CI"},{"age":72.89,"val":2.379,"grp":"PD-CI"},{"age":73.82,"val":2.375,"grp":"PD-CI"},{"age":74.39,"val":2.357,"grp":"PD-CI"},{"age":73.15,"val":2.33,"grp":"PD-CI"},{"age":68.75,"val":2.335,"grp":"PD-CI"},{"age":64.66,"val":2.311,"grp":"PD-CI"},{"age":69.03,"val":2.298,"grp":"PD-CI"},{"age":69.37,"val":2.289,"grp":"PD-CI"},{"age":72.22,"val":2.298,"grp":"PD-CI"},{"age":75.32,"val":2.294,"grp":"PD-CI"},{"age":75.97,"val":2.254,"grp":"PD-CI"},{"age":72.64,"val":2.255,"grp":"PD-CI"},{"age":80.68,"val":2.276,"grp":"PD-CI"},{"age":76.64,"val":2.215,"grp":"PD-CI"},{"age":78.11,"val":2.178,"grp":"PD-CI"},{"age":75.66,"val":2.138,"grp":"PD-CI"}
],
"lnB": [
{"age":47.0,"val":2.6725,"s":"controls"},{"age":50.3,"val":2.679,"s":"controls"},{"age":53.1,"val":2.682,"s":"controls"},{"age":55.9,"val":2.6834,"s":"controls"},{"age":57.9,"val":2.6856,"s":"controls"},{"age":59.3,"val":2.679,"s":"controls"},{"age":61.0,"val":2.6626,"s":"controls"},{"age":62.9,"val":2.652,"s":"controls"},{"age":64.5,"val":2.641,"s":"controls"},{"age":66.5,"val":2.6273,"s":"controls"},{"age":68.5,"val":2.6135,"s":"controls"},{"age":70.2,"val":2.6,"s":"controls"},{"age":71.9,"val":2.5918,"s":"controls"},{"age":73.5,"val":2.5918,"s":"controls"},{"age":75.2,"val":2.5945,"s":"controls"},{"age":76.9,"val":2.6,"s":"controls"},{"age":78.6,"val":2.6109,"s":"controls"},{"age":79.8,"val":2.62,"s":"controls"},
{"age":45.0,"val":2.6753,"s":"PD-N"},{"age":47.5,"val":2.6736,"s":"PD-N"},{"age":50.3,"val":2.6666,"s":"PD-N"},{"age":53.1,"val":2.6584,"s":"PD-N"},{"age":55.9,"val":2.6507,"s":"PD-N"},{"age":57.9,"val":2.6437,"s":"PD-N"},{"age":59.3,"val":2.6327,"s":"PD-N"},{"age":61.0,"val":2.6163,"s":"PD-N"},{"age":62.9,"val":2.609,"s":"PD-N"},{"age":64.5,"val":2.5972,"s":"PD-N"},{"age":66.2,"val":2.5864,"s":"PD-N"},{"age":68.5,"val":2.5782,"s":"PD-N"},{"age":71.3,"val":2.5672,"s":"PD-N"},{"age":74.1,"val":2.5536,"s":"PD-N"},{"age":76.9,"val":2.5373,"s":"PD-N"},{"age":79.7,"val":2.5209,"s":"PD-N"},{"age":80.5,"val":2.514,"s":"PD-N"},
{"age":48.0,"val":2.6175,"s":"PD-CI"},{"age":50.3,"val":2.6109,"s":"PD-CI"},{"age":53.1,"val":2.6011,"s":"PD-CI"},{"age":55.9,"val":2.5929,"s":"PD-CI"},{"age":57.9,"val":2.588,"s":"PD-CI"},{"age":60.1,"val":2.5808,"s":"PD-CI"},{"age":62.9,"val":2.5755,"s":"PD-CI"},{"age":65.6,"val":2.5618,"s":"PD-CI"},{"age":68.5,"val":2.548,"s":"PD-CI"},{"age":71.3,"val":2.5345,"s":"PD-CI"},{"age":74.1,"val":2.5235,"s":"PD-CI"},{"age":75.5,"val":2.517,"s":"PD-CI"},{"age":78.3,"val":2.5071,"s":"PD-CI"},{"age":81.35,"val":2.5015,"s":"PD-CI"}
]
},
"hconcat": [
{
  "width": 421, "height": 470,
  "title": {"text": "(a)", "anchor": "start", "frame": "bounds", "fontSize": 24, "fontWeight": "normal", "offset": -15, "dx": -2, "color": "black"},
  "layer": [
    {
      "data": {"name": "ptsA"},
      "mark": {"type": "point", "filled": false, "strokeWidth": 1.2, "color": "#808080", "opacity": 1, "size": 42, "clip": true},
      "encoding": {
        "x": {"field": "age", "type": "quantitative", "scale": {"domain": [45, 82], "nice": false, "zero": false}, "axis": {"values": [50, 60, 70, 80], "title": "age / y", "labelPadding": 12, "titlePadding": 2}},
        "y": {"field": "val", "type": "quantitative", "scale": {"domain": [893.9, 1234.6], "nice": false, "zero": false}, "axis": {"values": [900, 950, 1000, 1050, 1100, 1150, 1200], "format": "d", "title": "Brain Volume / cm³", "titlePadding": 10}},
        "shape": {"field": "grp", "type": "nominal", "sort": ["controls", "PD-N", "PD-CI"], "scale": {"range": ["M-1,-1L1,1M-1,1L1,-1", "circle", "M0,-1.1L0,1.1M-1,0L1,0M-0.75,-0.75L0.75,0.75M-0.75,0.75L0.75,-0.75"]},
          "legend": {"title": null, "orient": "none", "legendX": 22, "legendY": 320, "symbolSize": 42, "symbolStrokeColor": "#808080", "symbolStrokeWidth": 1.2, "symbolFillColor": "transparent", "labelOffset": 11, "rowPadding": 5}}
      }
    },
    {
      "data": {"name": "lnA"},
      "mark": {"type": "line", "strokeWidth": 4, "clip": true},
      "encoding": {
        "x": {"field": "age", "type": "quantitative"},
        "y": {"field": "val", "type": "quantitative"},
        "color": {"field": "s", "type": "nominal", "scale": {"domain": ["controls", "PD-N", "PD-CI"], "range": ["#000000", "#0000ff", "#ff0000"]},
          "legend": {"title": null, "orient": "none", "legendX": 19, "legendY": 392, "symbolType": "M-1.7,0L1.7,0", "symbolSize": 400, "symbolStrokeWidth": 4, "labelOffset": 11, "rowPadding": 3}},
        "strokeDash": {"field": "s", "type": "nominal", "scale": {"domain": ["controls", "PD-N", "PD-CI"], "range": [[12, 4, 3, 4], [1, 0], [1, 0]]},
          "legend": {"title": null, "orient": "none", "legendX": 19, "legendY": 392, "symbolType": "M-1.7,0L1.7,0", "symbolSize": 400, "symbolStrokeWidth": 4, "labelOffset": 11, "rowPadding": 3}}
      }
    },
    {
      "data": {"values": [{"age": 58.78, "lo": 893.9, "hi": 1149.7}]},
      "mark": {"type": "rule", "strokeDash": [5, 3], "strokeWidth": 1.5, "color": "#222222"},
      "encoding": {"x": {"field": "age", "type": "quantitative"}, "y": {"field": "lo", "type": "quantitative"}, "y2": {"field": "hi"}}
    },
    {
      "data": {"values": [{"age": 58.8, "val": 1170.7, "t": "*"}]},
      "mark": {"type": "text", "fontSize": 60, "fontWeight": "bold", "baseline": "alphabetic", "align": "center", "dy": 35, "color": "black"},
      "encoding": {"x": {"field": "age", "type": "quantitative"}, "y": {"field": "val", "type": "quantitative"}, "text": {"field": "t"}}
    }
  ]
},
{
  "width": 430, "height": 470,
  "title": {"text": "(b)", "anchor": "start", "frame": "bounds", "fontSize": 24, "fontWeight": "normal", "offset": -21, "dx": -4, "color": "black"},
  "layer": [
    {
      "data": {"name": "ptsB"},
      "mark": {"type": "point", "filled": false, "strokeWidth": 1.2, "color": "#808080", "opacity": 1, "size": 42, "clip": true},
      "encoding": {
        "x": {"field": "age", "type": "quantitative", "scale": {"domain": [45, 81.35], "nice": false, "zero": false}, "axis": {"values": [50, 60, 70, 80], "title": "age / y", "labelPadding": 12, "titlePadding": 2}},
        "y": {"field": "val", "type": "quantitative", "scale": {"domain": [2.137, 2.905], "nice": false, "zero": false}, "axis": {"values": [2.2, 2.3, 2.4, 2.5, 2.6, 2.7, 2.8, 2.9], "format": ".1f", "title": "Mean cortical thickness / mm", "labelPadding": 11, "titlePadding": 10}},
        "shape": {"field": "grp", "type": "nominal", "sort": ["controls", "PD-N", "PD-CI"], "scale": {"range": ["M-1,-1L1,1M-1,1L1,-1", "circle", "M0,-1.1L0,1.1M-1,0L1,0M-0.75,-0.75L0.75,0.75M-0.75,0.75L0.75,-0.75"]}, "legend": null}
      }
    },
    {
      "data": {"name": "lnB"},
      "mark": {"type": "line", "strokeWidth": 4, "clip": true},
      "encoding": {
        "x": {"field": "age", "type": "quantitative"},
        "y": {"field": "val", "type": "quantitative"},
        "color": {"field": "s", "type": "nominal", "scale": {"domain": ["controls", "PD-N", "PD-CI"], "range": ["#000000", "#0000ff", "#ff0000"]}, "legend": null},
        "strokeDash": {"field": "s", "type": "nominal", "scale": {"domain": ["controls", "PD-N", "PD-CI"], "range": [[12, 4, 3, 4], [1, 0], [1, 0]]}, "legend": null}
      }
    },
    {
      "data": {"values": [{"age": 58.06, "lo": 2.137, "hi": 2.685}]},
      "mark": {"type": "rule", "strokeDash": [5, 3], "strokeWidth": 1.5, "color": "#222222"},
      "encoding": {"x": {"field": "age", "type": "quantitative"}, "y": {"field": "lo", "type": "quantitative"}, "y2": {"field": "hi"}}
    },
    {
      "data": {"values": [{"age": 58.1, "val": 2.7315, "t": "*"}]},
      "mark": {"type": "text", "fontSize": 60, "fontWeight": "bold", "baseline": "alphabetic", "align": "center", "dy": 35, "color": "black"},
      "encoding": {"x": {"field": "age", "type": "quantitative"}, "y": {"field": "val", "type": "quantitative"}, "text": {"field": "t"}}
    }
  ]
}
]
}
